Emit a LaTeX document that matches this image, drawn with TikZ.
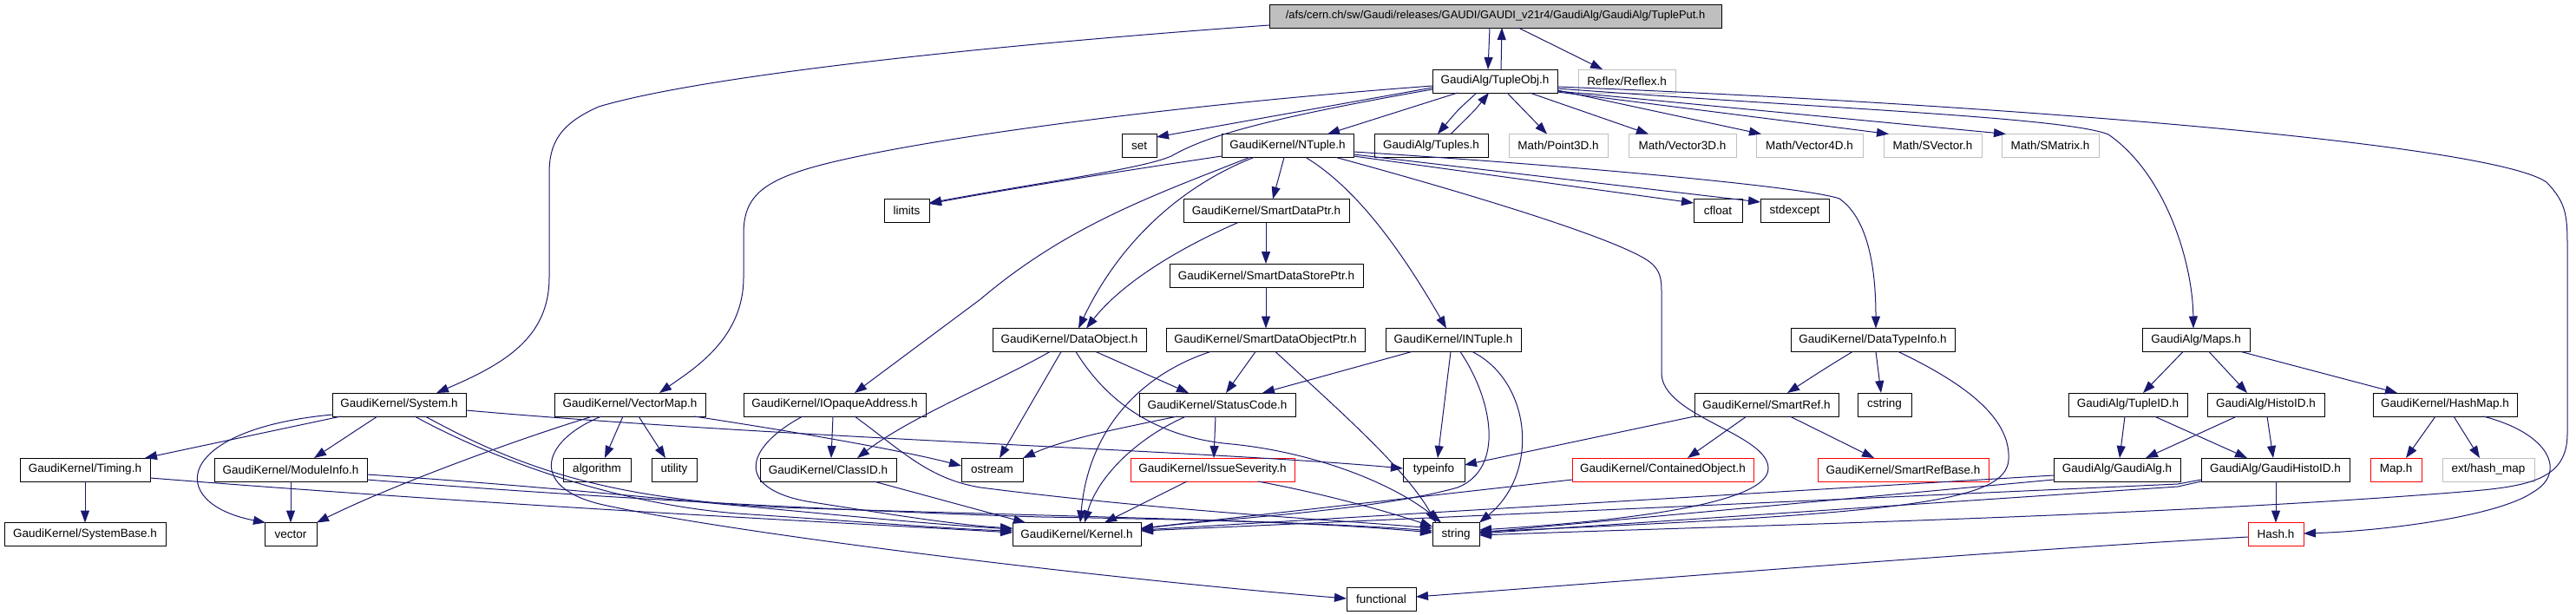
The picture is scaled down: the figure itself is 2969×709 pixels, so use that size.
\documentclass[tikz,border=0pt]{standalone}
\usepackage{fontspec}
\setmainfont{Liberation Sans}
\usetikzlibrary{arrows.meta}
\definecolor{edgeblue}{RGB}{25,25,112}
\definecolor{boxgray}{RGB}{191,191,191}
\tikzset{
  box/.style={draw=black, line width=0.9pt, rectangle, inner sep=0pt, outer sep=0pt,
    minimum height=27pt, text=black, font=\fontsize{13.5}{15}\selectfont},
  redbox/.style={box, draw=red},
  graybox/.style={box, draw=boxgray},
  dep/.style={draw=edgeblue, line width=1pt, -{Triangle[length=14pt,width=10pt]}}
}
\begin{document}
\begin{tikzpicture}[x=1pt,y=-1pt]
\useasboundingbox (0,0) rectangle (2969,709);
% row 0-1
\node[box, fill=boxgray, minimum width=521, font=\fontsize{12.9}{15}\selectfont] (tp) at (1723.5,18.5) {/afs/cern.ch/sw/Gaudi/releases/GAUDI/GAUDI\_v21r4/GaudiAlg/GaudiAlg/TuplePut.h};
\node[box, minimum width=144] (tobj) at (1723,93.5) {GaudiAlg/TupleObj.h};
\node[graybox, minimum width=112] (reflex) at (1875,93.5) {Reflex/Reflex.h};
% row 2
\node[box, minimum width=40] (set) at (1313,168) {set};
\node[box, minimum width=152] (ntuple) at (1484,168) {GaudiKernel/NTuple.h};
\node[box, minimum width=131] (tuples) at (1649.5,168) {GaudiAlg/Tuples.h};
\node[graybox, minimum width=114] (p3d) at (1796,168) {Math/Point3D.h};
\node[graybox, minimum width=124] (v3d) at (1939,168) {Math/Vector3D.h};
\node[graybox, minimum width=123] (v4d) at (2085.5,168) {Math/Vector4D.h};
\node[graybox, minimum width=113] (svec) at (2227.5,168) {Math/SVector.h};
\node[graybox, minimum width=112] (smat) at (2363,168) {Math/SMatrix.h};
% row 3
\node[box, minimum width=52] (limits) at (1045,243) {limits};
\node[box, minimum width=191] (sdp) at (1459.5,243) {GaudiKernel/SmartDataPtr.h};
\node[box, minimum width=56] (cfloat) at (1980,243) {cfloat};
\node[box, minimum width=79] (stdexc) at (2068.5,243) {stdexcept};
% row 4
\node[box, minimum width=223] (sdsp) at (1459.5,317.5) {GaudiKernel/SmartDataStorePtr.h};
% row 5
\node[box, minimum width=177] (dobj) at (1232.5,392) {GaudiKernel/DataObject.h};
\node[box, minimum width=229] (sdop) at (1458.5,392) {GaudiKernel/SmartDataObjectPtr.h};
\node[box, minimum width=156] (intuple) at (1675,392) {GaudiKernel/INTuple.h};
\node[box, minimum width=189] (dti) at (2158.5,392) {GaudiKernel/DataTypeInfo.h};
\node[box, minimum width=124] (maps) at (2531,392) {GaudiAlg/Maps.h};
% row 6
\node[box, minimum width=154] (sys) at (460,466.5) {GaudiKernel/System.h};
\node[box, minimum width=174] (vmap) at (726,466.5) {GaudiKernel/VectorMap.h};
\node[box, minimum width=210] (iop) at (962,466.5) {GaudiKernel/IOpaqueAddress.h};
\node[box, minimum width=180] (sc) at (1403,466.5) {GaudiKernel/StatusCode.h};
\node[box, minimum width=166] (sref) at (2036,466.5) {GaudiKernel/SmartRef.h};
\node[box, minimum width=62] (cstr) at (2172,466.5) {cstring};
\node[box, minimum width=137] (tid) at (2452.5,466.5) {GaudiAlg/TupleID.h};
\node[box, minimum width=135] (hid) at (2611.5,466.5) {GaudiAlg/HistoID.h};
\node[box, minimum width=166] (hmap) at (2818,466.5) {GaudiKernel/HashMap.h};
% row 7
\node[box, minimum width=150] (timing) at (98,541.5) {GaudiKernel/Timing.h};
\node[box, minimum width=176] (minfo) at (335,541.5) {GaudiKernel/ModuleInfo.h};
\node[box, minimum width=78] (algo) at (688,541.5) {algorithm};
\node[box, minimum width=52] (util) at (777,541.5) {utility};
\node[box, minimum width=157] (cid) at (954.5,541.5) {GaudiKernel/ClassID.h};
\node[box, minimum width=71] (ostr) at (1143.5,541.5) {ostream};
\node[redbox, minimum width=189] (isev) at (1397.5,541.5) {GaudiKernel/IssueSeverity.h};
\node[box, minimum width=71] (tinfo) at (1652.5,541.5) {typeinfo};
\node[redbox, minimum width=209] (cobj) at (1916.5,541.5) {GaudiKernel/ContainedObject.h};
\node[redbox, minimum width=197] (srb) at (2193.5,541.5) {GaudiKernel/SmartRefBase.h};
\node[box, minimum width=146] (galg) at (2440,541.5) {GaudiAlg/GaudiAlg.h};
\node[box, minimum width=171] (ghid) at (2622.5,541.5) {GaudiAlg/GaudiHistoID.h};
\node[redbox, minimum width=59] (map) at (2761.5,541.5) {Map.h};
\node[graybox, minimum width=106] (hashmap) at (2868,541.5) {ext/hash\_map};
% row 8
\node[box, minimum width=186] (sbase) at (98,616) {GaudiKernel/SystemBase.h};
\node[box, minimum width=60] (vec) at (335,616) {vector};
\node[box, minimum width=148] (kern) at (1241,616) {GaudiKernel/Kernel.h};
\node[box, minimum width=54] (str) at (1678,616) {string};
\node[redbox, minimum width=64] (hash) at (2623,616) {Hash.h};
% row 9
\node[box, minimum width=80] (func) at (1592,691) {functional};

% ---- edges ----
\draw[dep] (tp.south -| 1717,0) -- (tobj.north -| 1715,0);
\draw[dep] (tobj.north -| 1730,0) -- (tp.south -| 1731,0);
\draw[dep] (tp.south -| 1750,0) -- (reflex.north -| 1847,0);
\draw[dep] (tp.west |- 0,29) .. controls (1100,55) and (800,90) .. (690,123) .. controls (645,143) and (633,165) .. (633,200) -- (633,320) .. controls (633,390) and (580,420) .. (sys.north -| 503,0);
\draw[dep] (tobj.west |- 0,99) .. controls (1300,125) and (1000,170) .. (920,198) .. controls (870,215) and (857,235) .. (857,270) -- (857,320) .. controls (857,390) and (800,425) .. (vmap.north -| 760,0);
\draw[dep] (tobj.west |- 0,101) -- (set.east |- 0,158);
\draw[dep] (tobj.west |- 0,103) .. controls (1440,140) and (1385,160) .. (1350,180) .. controls (1315,195) and (1200,210) .. (limits.east |- 0,234);
\draw[dep] (ntuple.west |- 0,180) .. controls (1300,196) and (1150,220) .. (limits.east |- 0,235);
\draw[dep] (tobj.south -| 1680,0) -- (ntuple.north -| 1530,0);
\draw[dep] (tobj.south -| 1702,0) .. controls (1680,127) .. (tuples.north -| 1657,0);
\draw[dep] (tuples.north -| 1672,0) .. controls (1700,127) .. (tobj.south -| 1716,0);
\draw[dep] (tobj.south -| 1737,0) -- (p3d.north -| 1783,0);
\draw[dep] (tobj.south -| 1763,0) -- (v3d.north -| 1900,0);
\draw[dep] (tobj.east |- 0,104) -- (v4d.north -| 2030,0);
\draw[dep] (tobj.east |- 0,106) -- (svec.north -| 2177,0);
\draw[dep] (tobj.east |- 0,105) -- (smat.north -| 2312,0);
\draw[dep] (tobj.east |- 0,102) .. controls (2100,125) and (2380,135) .. (2430,155) .. controls (2495,200) and (2527,300) .. (maps.north -| 2528,0);
\draw[dep] (tobj.east |- 0,100) .. controls (2300,120) and (2870,165) .. (2935,210) .. controls (2959,235) and (2959,250) .. (2959,290) -- (2959,500) .. controls (2959,550) and (2920,560) .. (2850,566) .. controls (2500,595) and (2000,606) .. (str.east |- 0,617);
% NTuple
\draw[dep] (ntuple.south -| 1480,0) -- (sdp.north -| 1467,0);
\draw[dep] (ntuple.south -| 1445,0) .. controls (1360,215) and (1290,280) .. (dobj.north -| 1243,0);
\draw[dep] (ntuple.south -| 1440,0) .. controls (1330,225) and (1230,260) .. (1130,345) -- (iop.north -| 985,0);
\draw[dep] (ntuple.south -| 1505,0) .. controls (1560,215) and (1610,280) .. (intuple.north -| 1667,0);
\draw[dep] (ntuple.east |- 0,180) -- (cfloat.west |- 0,234);
\draw[dep] (ntuple.east |- 0,178) -- (stdexc.west |- 0,233);
\draw[dep] (ntuple.east |- 0,175) .. controls (1800,190) and (2080,215) .. (2120,229) .. controls (2150,250) and (2162,300) .. (dti.north -| 2162,0);
\draw[dep] (ntuple.south -| 1540,0) .. controls (1700,225) and (1880,280) .. (1905,305) .. controls (1915,315) and (1915,325) .. (1915,340) -- (1915,430) .. controls (1915,480) and (2038,500) .. (2038,540) .. controls (2038,580) and (1880,600) .. (str.east |- 0,611);
% smart pointers
\draw[dep] (sdp.south -| 1459,0) -- (sdsp.north -| 1459,0);
\draw[dep] (sdp.south -| 1427,0) .. controls (1350,290) and (1290,330) .. (dobj.north -| 1252,0);
\draw[dep] (sdsp.south -| 1459,0) -- (sdop.north -| 1459,0);
\draw[dep] (sdop.south -| 1447,0) -- (sc.north -| 1413,0);
\draw[dep] (sdop.south -| 1395,0) .. controls (1320,430) and (1255,490) .. (kern.north -| 1245,0);
\draw[dep] (sdop.south -| 1470,0) .. controls (1540,470) and (1620,540) .. (str.north -| 1655,0);
% DataObject
\draw[dep] (dobj.south -| 1263,0) -- (sc.north -| 1370,0);
\draw[dep] (dobj.south -| 1210,0) .. controls (1150,440) and (1050,480) .. (cid.north -| 988,0);
\draw[dep] (dobj.south -| 1223,0) -- (ostr.north -| 1152,0);
\draw[dep] (dobj.south -| 1240,0) .. controls (1280,470) and (1340,505) .. (1420,512) .. controls (1520,522) and (1610,560) .. (str.north -| 1661,0);
% INTuple
\draw[dep] (intuple.south -| 1627,0) -- (sc.north -| 1455,0);
\draw[dep] (intuple.south -| 1672,0) -- (tinfo.north -| 1657,0);
\draw[dep] (intuple.south -| 1683,0) .. controls (1720,460) and (1735,540) .. (1680,562) .. controls (1580,590) and (1400,598) .. (kern.east |- 0,610);
\draw[dep] (intuple.south -| 1697,0) .. controls (1765,440) and (1775,545) .. (str.north east);
% DataTypeInfo
\draw[dep] (dti.south -| 2135,0) .. controls (2100,427) .. (sref.north -| 2060,0);
\draw[dep] (dti.south -| 2162,0) -- (cstr.north -| 2168,0);
\draw[dep] (dti.south -| 2188,0) .. controls (2260,440) and (2318,480) .. (2315,530) .. controls (2312,578) and (2200,592) .. (str.east |- 0,613);
% Maps
\draw[dep] (maps.south -| 2516,0) -- (tid.north -| 2470,0);
\draw[dep] (maps.south -| 2546,0) -- (hid.north -| 2590,0);
\draw[dep] (maps.south -| 2583,0) -- (hmap.north -| 2763,0);
% System
\draw[dep] (sys.south -| 393,0) -- (timing.north -| 167,0);
\draw[dep] (sys.south -| 435,0) -- (minfo.north -| 362,0);
\draw[dep] (sys.west |- 0,478) .. controls (200,495) and (190,580) .. (vec.north -| 306,0);
\draw[dep] (sys.south -| 478,0) .. controls (560,525) and (700,580) .. (850,592) .. controls (1000,602) and (1100,610) .. (kern.west |- 0,612);
\draw[dep] (sys.south -| 490,0) .. controls (600,540) and (700,575) .. (900,585) .. controls (1200,595) and (1500,600) .. (str.west |- 0,612);
\draw[dep] (sys.east |- 0,473) .. controls (900,505) and (1400,520) .. (tinfo.west |- 0,540);
% VectorMap
\draw[dep] (vmap.south -| 718,0) -- (algo.north -| 697,0);
\draw[dep] (vmap.south -| 736,0) -- (util.north -| 767,0);
\draw[dep] (vmap.south -| 800,0) .. controls (950,503) and (1050,522) .. (ostr.west |- 0,537);
\draw[dep] (vmap.south -| 683,0) .. controls (600,505) and (450,560) .. (vec.north east);
\draw[dep] (vmap.south -| 693,0) .. controls (620,510) and (610,565) .. (700,583) .. controls (850,615) and (1250,665) .. (func.west |- 0,690);
% IOpaqueAddress
\draw[dep] (iop.south -| 960,0) -- (cid.north -| 958,0);
\draw[dep] (iop.south -| 925,0) .. controls (860,515) and (845,562) .. (930,578) .. controls (1020,592) and (1100,605) .. (kern.west |- 0,609);
\draw[dep] (iop.south -| 985,0) .. controls (1040,520) and (1070,552) .. (1130,562) .. controls (1350,590) and (1550,600) .. (str.west |- 0,609);
% StatusCode
\draw[dep] (sc.south -| 1357,0) .. controls (1300,492) and (1230,505) .. (ostr.north east);
\draw[dep] (sc.south -| 1367,0) .. controls (1310,505) and (1265,550) .. (kern.north -| 1250,0);
\draw[dep] (sc.south -| 1401,0) -- (isev.north -| 1399,0);
% SmartRef
\draw[dep] (sref.south west) -- (tinfo.east |- 0,536);
\draw[dep] (sref.south -| 2013,0) -- (cobj.north -| 1945,0);
\draw[dep] (sref.south -| 2063,0) -- (srb.north -| 2160,0);
% IDs
\draw[dep] (tid.south -| 2449,0) -- (galg.north -| 2443,0);
\draw[dep] (tid.south -| 2483,0) -- (ghid.north -| 2590,0);
\draw[dep] (hid.south -| 2578,0) -- (galg.north -| 2473,0);
\draw[dep] (hid.south -| 2613,0) -- (ghid.north -| 2620,0);
% HashMap
\draw[dep] (hmap.south -| 2807,0) -- (map.north -| 2773,0);
\draw[dep] (hmap.south -| 2828,0) -- (hashmap.north -| 2858,0);
\draw[dep] (hmap.south -| 2862,0) .. controls (2940,500) and (2958,545) .. (2920,567) .. controls (2880,595) and (2750,612) .. (hash.east |- 0,615);
% row 7 sources
\draw[dep] (timing.south -| 98,0) -- (sbase.north -| 98,0);
\draw[dep] (timing.east |- 0,551) .. controls (600,585) and (1000,604) .. (kern.west |- 0,614);
\draw[dep] (minfo.south -| 335,0) -- (vec.north -| 335,0);
\draw[dep] (minfo.east |- 0,547) .. controls (700,565) and (1000,600) .. (kern.west |- 0,610);
\draw[dep] (minfo.east |- 0,553) .. controls (700,575) and (1000,590) .. (1200,596) .. controls (1450,600) and (1550,605) .. (str.west |- 0,614);
\draw[dep] (cid.south -| 1007,0) -- (kern.north -| 1182,0);
\draw[dep] (isev.south -| 1368,0) -- (kern.north -| 1273,0);
\draw[dep] (isev.south -| 1450,0) .. controls (1530,570) and (1600,590) .. (str.west |- 0,607);
\draw[dep] (cobj.west |- 0,553) -- (kern.east |- 0,609);
\draw[dep] (galg.west |- 0,548) -- (kern.east |- 0,611);
\draw[dep] (galg.west |- 0,553) -- (str.east |- 0,614);
\draw[dep] (ghid.south -| 2623,0) -- (hash.north -| 2623,0);
\draw[dep] (ghid.west |- 0,553) -- (2510,558) -- (kern.east |- 0,612);
\draw[dep] (ghid.west |- 0,555) -- (2510,561) -- (str.east |- 0,615);
\draw[dep] (hash.west |- 0,619) .. controls (2300,635) and (1900,668) .. (func.east |- 0,688);
\end{tikzpicture}
\end{document}
